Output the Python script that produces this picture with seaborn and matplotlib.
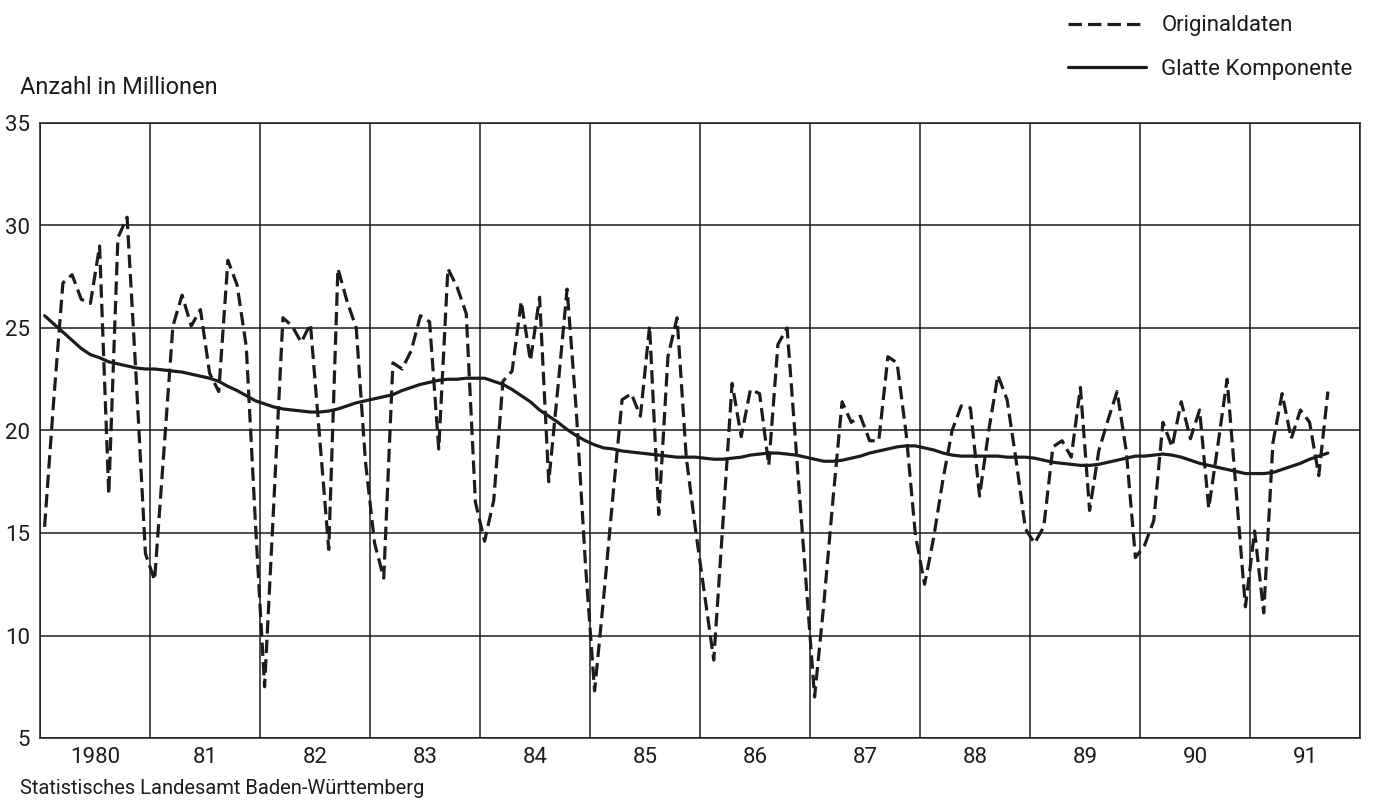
import numpy as np
import pandas as pd
import seaborn as sns
import matplotlib.pyplot as plt
from matplotlib import font_manager
from matplotlib.ticker import FixedLocator, FixedFormatter, NullFormatter

# Monatswerte Jan 1980 - Sep 1991 (Anzahl in Millionen)
start_year = 1980
original = [
    15.3, 21.5, 27.2, 27.6, 26.4, 26.2, 29.0, 16.9, 29.4, 30.4, 22.5, 14.0,   # 1980
    12.7, 18.9, 25.1, 26.6, 25.1, 25.9, 22.8, 21.9, 28.3, 27.1, 24.1, 15.5,   # 1981
    7.5, 16.4, 25.5, 25.1, 24.3, 25.2, 19.7, 14.2, 27.9, 26.3, 25.0, 18.5,    # 1982
    14.5, 12.8, 23.3, 23.0, 23.9, 25.6, 25.3, 19.1, 27.9, 27.0, 25.7, 16.5,   # 1983
    14.6, 16.6, 22.4, 22.9, 26.3, 23.4, 26.5, 17.5, 22.1, 26.9, 21.0, 13.5,   # 1984
    7.3, 11.9, 16.8, 21.5, 21.8, 20.7, 25.1, 15.9, 23.6, 25.5, 18.7, 15.2,    # 1985
    12.0, 8.8, 15.5, 22.3, 19.7, 22.0, 21.8, 18.3, 24.2, 25.0, 19.0, 13.0,    # 1986
    7.0, 11.5, 16.6, 21.4, 20.4, 20.7, 19.5, 19.5, 23.6, 23.3, 19.8, 14.9,    # 1987
    12.5, 14.8, 17.6, 20.0, 21.2, 21.1, 16.8, 20.0, 22.7, 21.5, 18.5, 15.2,   # 1988
    14.5, 15.3, 19.2, 19.5, 18.7, 22.1, 16.1, 19.0, 20.5, 21.9, 19.0, 13.8,   # 1989
    14.4, 15.6, 20.4, 19.2, 21.4, 19.6, 21.0, 16.2, 19.3, 22.5, 17.0, 11.4,   # 1990
    15.1, 11.1, 19.4, 21.8, 19.6, 21.0, 20.4, 17.8, 21.9,                     # 1991
]
smooth = [
    25.6, 25.2, 24.8, 24.4, 24.0, 23.7, 23.55, 23.35, 23.25, 23.15, 23.05, 23.0,
    23.0, 22.95, 22.9, 22.85, 22.75, 22.65, 22.55, 22.4, 22.15, 21.95, 21.7, 21.45,
    21.3, 21.15, 21.05, 21.0, 20.95, 20.9, 20.9, 20.95, 21.05, 21.2, 21.35, 21.45,
    21.55, 21.65, 21.75, 21.95, 22.1, 22.25, 22.35, 22.45, 22.5, 22.5, 22.55, 22.55,
    22.55, 22.4, 22.25, 22.0, 21.7, 21.4, 21.0, 20.7, 20.4, 20.05, 19.75, 19.5,
    19.3, 19.15, 19.1, 19.0, 18.95, 18.9, 18.85, 18.8, 18.75, 18.7, 18.7, 18.7,
    18.65, 18.6, 18.6, 18.65, 18.7, 18.8, 18.85, 18.9, 18.9, 18.85, 18.8, 18.7,
    18.6, 18.5, 18.5, 18.55, 18.65, 18.75, 18.9, 19.0, 19.1, 19.2, 19.25, 19.25,
    19.15, 19.05, 18.9, 18.8, 18.75, 18.75, 18.75, 18.75, 18.75, 18.7, 18.7, 18.7,
    18.65, 18.55, 18.45, 18.4, 18.35, 18.3, 18.3, 18.35, 18.45, 18.55, 18.65, 18.75,
    18.75, 18.8, 18.85, 18.8, 18.7, 18.55, 18.4, 18.3, 18.2, 18.1, 18.0, 17.9,
    17.9, 17.9, 17.95, 18.1, 18.25, 18.4, 18.6, 18.75, 18.9,
]
year_labels = ["1980", "81", "82", "83", "84", "85", "86", "87", "88", "89", "90", "91"]
y_ticks = [5, 10, 15, 20, 25, 30, 35]

# Tabelle fuer seaborn, Werte in der Monatsmitte
n = len(original)
df = pd.DataFrame({
    "zeit": start_year + (np.arange(n) + 0.5) / 12,
    "Originaldaten": original,
    "Glatte Komponente": smooth,
})

sns.set_style("white")
installed = {f.name for f in font_manager.fontManager.ttflist}
font = "Roboto" if "Roboto" in installed else "DejaVu Sans"
plt.rcParams["font.family"] = [font, "DejaVu Sans"]
ink = "#1c1c1c"

W, H = 1379, 805
fig = plt.figure(figsize=(W / 100, H / 100), dpi=100)
ax = fig.add_axes([40 / W, 1 - 738 / H, 1320 / W, 615 / H])

sns.lineplot(data=df, x="zeit", y="Originaldaten", ax=ax, color=ink, lw=2.3,
             linestyle=(0, (4.2, 1.9)), label="Originaldaten")
sns.lineplot(data=df, x="zeit", y="Glatte Komponente", ax=ax, color=ink, lw=2.3,
             label="Glatte Komponente")

n_years = len(year_labels)
ax.set_xlim(start_year, start_year + n_years)
ax.set_ylim(y_ticks[0], y_ticks[-1])

# Jahresgrenzen als Hauptstriche, Monate als Nebenstriche mit Jahreszahl in der Mitte
ax.set_xticks([start_year + i for i in range(n_years + 1)])
ax.xaxis.set_major_formatter(NullFormatter())
month_pos, month_lab = [], []
for k in range(1, n_years * 12):
    if k % 12 == 0:
        continue
    month_pos.append(start_year + k / 12)
    month_lab.append(year_labels[k // 12] if k % 12 == 6 else "")
ax.xaxis.set_minor_locator(FixedLocator(month_pos))
ax.xaxis.set_minor_formatter(FixedFormatter(month_lab))
ax.tick_params(axis="x", which="major", direction="out", length=8.5, width=1.1, color=ink)
ax.tick_params(axis="x", which="minor", direction="out", length=3.6, width=1.0, color=ink,
               labelsize=16, pad=3, labelcolor=ink)

ax.set_yticks(y_ticks)
ax.set_yticklabels([str(v) for v in y_ticks])
ax.tick_params(axis="y", direction="out", length=6, width=1.1, color=ink,
               labelsize=16, pad=1, labelcolor=ink)

ax.grid(True, which="major", color=ink, lw=1.1)
for s in ax.spines.values():
    s.set_visible(True)
    s.set_color(ink)
    s.set_linewidth(1.1)

ax.set_xlabel("")
ax.set_ylabel("")

ax.legend(loc="upper right", bbox_to_anchor=(1366 / W, 1 - 2 / H), bbox_transform=fig.transFigure,
          borderaxespad=0.2, frameon=False, fontsize=16, handlelength=3.5, handletextpad=0.7,
          labelspacing=1.0, labelcolor=ink)

fig.text(20 / W, 1 - 88 / H, "Anzahl in Millionen", fontsize=17, color=ink, va="center", ha="left")
fig.text(20 / W, 1 - 788 / H, "Statistisches Landesamt Baden-Württemberg", fontsize=14.5,
         color=ink, va="center", ha="left")

fig.savefig("out.png", dpi=100)
